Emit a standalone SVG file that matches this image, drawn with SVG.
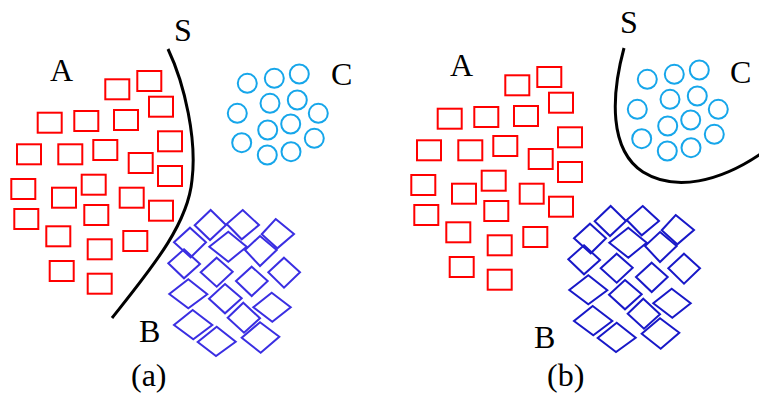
<svg xmlns="http://www.w3.org/2000/svg" width="759" height="393" viewBox="0 0 759 393">
<style>
.sq{fill:none;stroke:#ff0000;stroke-width:2}
.ci{fill:none;stroke:#16a6ea;stroke-width:2}
.dmA{fill:none;stroke:#3a2ee2;stroke-width:2;stroke-linejoin:miter}
.dmB{fill:none;stroke:#1818c8;stroke-width:2;stroke-linejoin:miter}
.sep{fill:none;stroke:#000;stroke-width:3;stroke-linecap:butt}
.lb{font-family:"Liberation Serif","Times New Roman",serif;font-size:32px;fill:#000}
</style>
<rect width="759" height="393" fill="#fff"/>
<g id="panel-a">
<g id="a-class-A">
<rect class="sq" x="105.3" y="79.3" width="24" height="20"/>
<rect class="sq" x="137.3" y="71" width="24" height="20"/>
<rect class="sq" x="149" y="96.7" width="24" height="20"/>
<rect class="sq" x="37.7" y="112.7" width="24" height="20"/>
<rect class="sq" x="74.3" y="111" width="24" height="20"/>
<rect class="sq" x="114" y="110" width="24" height="20"/>
<rect class="sq" x="158" y="131.3" width="24" height="20"/>
<rect class="sq" x="17" y="144.3" width="24" height="20"/>
<rect class="sq" x="58.3" y="144.3" width="24" height="20"/>
<rect class="sq" x="93.3" y="140" width="24" height="20"/>
<rect class="sq" x="128.7" y="153" width="24" height="20"/>
<rect class="sq" x="158" y="166" width="24" height="20"/>
<rect class="sq" x="11.3" y="179" width="24" height="20"/>
<rect class="sq" x="81.7" y="174.7" width="24" height="20"/>
<rect class="sq" x="52" y="187.7" width="24" height="20"/>
<rect class="sq" x="119.7" y="187.7" width="24" height="20"/>
<rect class="sq" x="149" y="200.7" width="24" height="20"/>
<rect class="sq" x="14.3" y="209" width="24" height="20"/>
<rect class="sq" x="84.3" y="205" width="24" height="20"/>
<rect class="sq" x="46.3" y="226.3" width="24" height="20"/>
<rect class="sq" x="123.3" y="231" width="24" height="20"/>
<rect class="sq" x="87.7" y="239.3" width="24" height="20"/>
<rect class="sq" x="49.7" y="261" width="24" height="20"/>
<rect class="sq" x="87.7" y="273.7" width="24" height="20"/>
</g>
<g id="a-class-B">
<polygon class="dmA" points="210.7,210 226,225 210,240 194.7,225.3"/>
<polygon class="dmA" points="242.7,210 259,225 241.7,239.3 226.7,224"/>
<polygon class="dmA" points="275.7,219 294,234 277.3,248.3 261.7,234.3"/>
<polygon class="dmA" points="190,227.7 206,242.3 190.7,257.3 174,242.3"/>
<polygon class="dmA" points="228.3,231.7 246.7,246.7 228.3,261.7 209.3,246.7"/>
<polygon class="dmA" points="260,236 276.7,250 260,266 245,250"/>
<polygon class="dmA" points="184,249.3 200,264 184,278.3 168.3,263.3"/>
<polygon class="dmA" points="216.7,257.7 232.7,271.7 216.7,286.7 200.7,272.3"/>
<polygon class="dmA" points="251.7,266.7 267.7,281 251.7,296 236,281"/>
<polygon class="dmA" points="284,257.7 300,272.3 284,287.7 268.3,272.3"/>
<polygon class="dmA" points="188.3,279.3 207.3,294.3 188.3,308.3 169.3,294"/>
<polygon class="dmA" points="225,284 241.7,298.3 225,313.3 209,298.7"/>
<polygon class="dmA" points="271.7,292.7 290.7,307.3 272.3,321.7 253.3,307.3"/>
<polygon class="dmA" points="243.3,302.7 260,318.3 244,332.7 227.7,317.7"/>
<polygon class="dmA" points="192.7,310 212.3,325 193.3,339.3 174,325"/>
<polygon class="dmA" points="216.7,326.7 235.7,341.7 216,356 197.7,342"/>
<polygon class="dmA" points="260,322.3 279.3,336.7 260.7,352.7 241.7,337.7"/>
</g>
<g id="a-class-C">
<circle class="ci" cx="247.3" cy="83.3" r="9.5"/>
<circle class="ci" cx="274.3" cy="78.3" r="9.5"/>
<circle class="ci" cx="299.3" cy="74" r="9.5"/>
<circle class="ci" cx="237.3" cy="113.3" r="9.5"/>
<circle class="ci" cx="270" cy="103.3" r="9.5"/>
<circle class="ci" cx="297.3" cy="100" r="9.5"/>
<circle class="ci" cx="318.3" cy="113.3" r="9.5"/>
<circle class="ci" cx="267.7" cy="130" r="9.5"/>
<circle class="ci" cx="290.7" cy="124" r="9.5"/>
<circle class="ci" cx="241.7" cy="142.7" r="9.5"/>
<circle class="ci" cx="314.3" cy="138.3" r="9.5"/>
<circle class="ci" cx="267.3" cy="155" r="9.5"/>
<circle class="ci" cx="291" cy="151.7" r="9.5"/>
</g>
<g id="a-boundary-S">
<path class="sep" d="M168,49 C185,85 197,140 192,180 C188,225 150,270 112,318"/>
</g>
<g id="a-labels">
<text class="lb" x="174" y="41">S</text>
<text class="lb" x="50" y="81">A</text>
<text class="lb" x="331" y="85">C</text>
<text class="lb" x="139" y="342">B</text>
<text class="lb" x="131" y="386">(a)</text>
</g>
</g>
<g id="panel-b">
<g id="b-class-A" transform="translate(400,-4)">
<rect class="sq" x="105.3" y="79.3" width="24" height="20"/>
<rect class="sq" x="137.3" y="71" width="24" height="20"/>
<rect class="sq" x="149" y="96.7" width="24" height="20"/>
<rect class="sq" x="37.7" y="112.7" width="24" height="20"/>
<rect class="sq" x="74.3" y="111" width="24" height="20"/>
<rect class="sq" x="114" y="110" width="24" height="20"/>
<rect class="sq" x="158" y="131.3" width="24" height="20"/>
<rect class="sq" x="17" y="144.3" width="24" height="20"/>
<rect class="sq" x="58.3" y="144.3" width="24" height="20"/>
<rect class="sq" x="93.3" y="140" width="24" height="20"/>
<rect class="sq" x="128.7" y="153" width="24" height="20"/>
<rect class="sq" x="158" y="166" width="24" height="20"/>
<rect class="sq" x="11.3" y="179" width="24" height="20"/>
<rect class="sq" x="81.7" y="174.7" width="24" height="20"/>
<rect class="sq" x="52" y="187.7" width="24" height="20"/>
<rect class="sq" x="119.7" y="187.7" width="24" height="20"/>
<rect class="sq" x="149" y="200.7" width="24" height="20"/>
<rect class="sq" x="14.3" y="209" width="24" height="20"/>
<rect class="sq" x="84.3" y="205" width="24" height="20"/>
<rect class="sq" x="46.3" y="226.3" width="24" height="20"/>
<rect class="sq" x="123.3" y="231" width="24" height="20"/>
<rect class="sq" x="87.7" y="239.3" width="24" height="20"/>
<rect class="sq" x="49.7" y="261" width="24" height="20"/>
<rect class="sq" x="87.7" y="273.7" width="24" height="20"/>
</g>
<g id="b-class-B" transform="translate(400,-4)">
<polygon class="dmB" points="210.7,210 226,225 210,240 194.7,225.3"/>
<polygon class="dmB" points="242.7,210 259,225 241.7,239.3 226.7,224"/>
<polygon class="dmB" points="275.7,219 294,234 277.3,248.3 261.7,234.3"/>
<polygon class="dmB" points="190,227.7 206,242.3 190.7,257.3 174,242.3"/>
<polygon class="dmB" points="228.3,231.7 246.7,246.7 228.3,261.7 209.3,246.7"/>
<polygon class="dmB" points="260,236 276.7,250 260,266 245,250"/>
<polygon class="dmB" points="184,249.3 200,264 184,278.3 168.3,263.3"/>
<polygon class="dmB" points="216.7,257.7 232.7,271.7 216.7,286.7 200.7,272.3"/>
<polygon class="dmB" points="251.7,266.7 267.7,281 251.7,296 236,281"/>
<polygon class="dmB" points="284,257.7 300,272.3 284,287.7 268.3,272.3"/>
<polygon class="dmB" points="188.3,279.3 207.3,294.3 188.3,308.3 169.3,294"/>
<polygon class="dmB" points="225,284 241.7,298.3 225,313.3 209,298.7"/>
<polygon class="dmB" points="271.7,292.7 290.7,307.3 272.3,321.7 253.3,307.3"/>
<polygon class="dmB" points="243.3,302.7 260,318.3 244,332.7 227.7,317.7"/>
<polygon class="dmB" points="192.7,310 212.3,325 193.3,339.3 174,325"/>
<polygon class="dmB" points="216.7,326.7 235.7,341.7 216,356 197.7,342"/>
<polygon class="dmB" points="260,322.3 279.3,336.7 260.7,352.7 241.7,337.7"/>
</g>
<g id="b-class-C" transform="translate(400,-4)">
<circle class="ci" cx="247.3" cy="83.3" r="9.5"/>
<circle class="ci" cx="274.3" cy="78.3" r="9.5"/>
<circle class="ci" cx="299.3" cy="74" r="9.5"/>
<circle class="ci" cx="237.3" cy="113.3" r="9.5"/>
<circle class="ci" cx="270" cy="103.3" r="9.5"/>
<circle class="ci" cx="297.3" cy="100" r="9.5"/>
<circle class="ci" cx="318.3" cy="113.3" r="9.5"/>
<circle class="ci" cx="267.7" cy="130" r="9.5"/>
<circle class="ci" cx="290.7" cy="124" r="9.5"/>
<circle class="ci" cx="241.7" cy="142.7" r="9.5"/>
<circle class="ci" cx="314.3" cy="138.3" r="9.5"/>
<circle class="ci" cx="267.3" cy="155" r="9.5"/>
<circle class="ci" cx="291" cy="151.7" r="9.5"/>
</g>
<g id="b-boundary-S">
<path class="sep" d="M624,48 C611,96 609,150 643,172 C675,192 720,182 762,153"/>
</g>
<g id="b-labels">
<text class="lb" x="620" y="33">S</text>
<text class="lb" x="450" y="76">A</text>
<text class="lb" x="730" y="83">C</text>
<text class="lb" x="534" y="348">B</text>
<text class="lb" x="547" y="386">(b)</text>
</g>
</g>
</svg>
